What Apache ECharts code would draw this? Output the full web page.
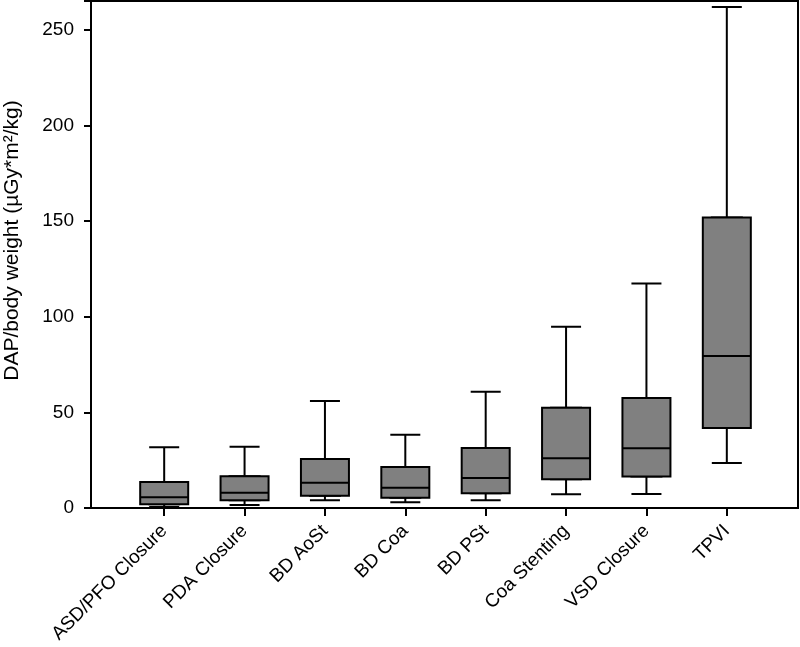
<!DOCTYPE html>
<html>
<head>
<meta charset="utf-8">
<script src="https://cdn.jsdelivr.net/npm/echarts@6/dist/echarts.min.js"></script>
<style>
  html, body { margin: 0; padding: 0; background: #fff; }
  #chart { width: 800px; height: 647px; }
</style>
</head>
<body>
<div id="chart"></div>
<script>
// data
const categories = ['ASD/PFO Closure', 'PDA Closure', 'BD AoSt', 'BD Coa', 'BD PSt', 'Coa Stenting', 'VSD Closure', 'TPVI'];
const mins    = [0.5, 1.6, 4.0, 3.0, 4.0, 7.2, 7.3, 23.5];
const q1s     = [1.9, 4.0, 6.4, 5.4, 7.7, 15.0, 16.4, 41.8];
const medians = [5.6, 8.0, 13.2, 10.6, 15.7, 26.0, 31.2, 79.5];
const q3s     = [13.6, 16.6, 25.6, 21.4, 31.4, 52.4, 57.5, 151.8];
const maxs    = [31.7, 32.0, 55.9, 38.3, 60.8, 94.8, 117.3, 261.9];
const yTicks  = [0, 50, 100, 150, 200, 250];

const chart = echarts.init(document.getElementById('chart'));
const font = 'Liberation Sans, Arial, sans-serif';

// whiskers + narrow caps
const whiskerData = categories.map((c, i) => [mins[i], q1s[i], medians[i], q3s[i], maxs[i]]);
// wide box drawn over it (whiskers collapse onto the box edges)
const boxData = categories.map((c, i) => [q1s[i], q1s[i], medians[i], q3s[i], q3s[i]]);

const option = {
  animation: false,
  backgroundColor: '#fff',
  grid: [
    { left: 91, right: 2, top: 1, bottom: 139, outerBoundsMode: 'none', show: true, borderColor: '#000', borderWidth: 2, backgroundColor: 'transparent' },
    { left: 124, right: 33, top: 1, bottom: 139, outerBoundsMode: 'none' }
  ],
  xAxis: [
    { type: 'value', gridIndex: 0, min: 0, max: 1, show: false },
    {
      type: 'category', gridIndex: 1, data: categories,
      axisLine: { show: false },
      axisTick: { show: true, alignWithLabel: true, length: 8, lineStyle: { color: '#000', width: 2 } },
      axisLabel: { interval: 0, rotate: 45, margin: 20, fontSize: 19, color: '#000', fontFamily: font },
      splitLine: { show: false }
    },
    // twin axis so the two box series sit on top of each other, not side by side
    { type: 'category', gridIndex: 1, data: categories, show: false }
  ],
  yAxis: [
    {
      type: 'value', gridIndex: 0, min: 0, max: 265, interval: 50,
      name: 'DAP/body weight (µGy*m²/kg)', nameLocation: 'middle', nameGap: 68,
      nameTextStyle: { fontSize: 21, color: '#000', fontFamily: font, padding: [0, 0, 0, 28] },
      axisLine: { show: true, lineStyle: { color: '#000', width: 2 } },
      axisTick: { show: true, inside: false, length: 7, lineStyle: { color: '#000', width: 2 } },
      axisLabel: {
        fontSize: 19, color: '#000', fontFamily: font, margin: 17,
        formatter: v => (yTicks.indexOf(v) >= 0 ? String(v) : '')
      },
      splitLine: { show: false }
    },
    { type: 'value', gridIndex: 1, min: 0, max: 265, interval: 50, show: false }
  ],
  series: [
    {
      type: 'boxplot', xAxisIndex: 1, yAxisIndex: 1, z: 2,
      boxWidth: [30, 30],
      data: whiskerData,
      itemStyle: { color: '#808080', borderColor: '#000', borderWidth: 2 },
      emphasis: { disabled: true }
    },
    {
      type: 'boxplot', xAxisIndex: 2, yAxisIndex: 1, z: 3,
      boxWidth: [48, 48],
      data: boxData,
      itemStyle: { color: '#808080', borderColor: '#000', borderWidth: 2 },
      emphasis: { disabled: true }
    }
  ]
};
chart.setOption(option);
</script>
</body>
</html>
